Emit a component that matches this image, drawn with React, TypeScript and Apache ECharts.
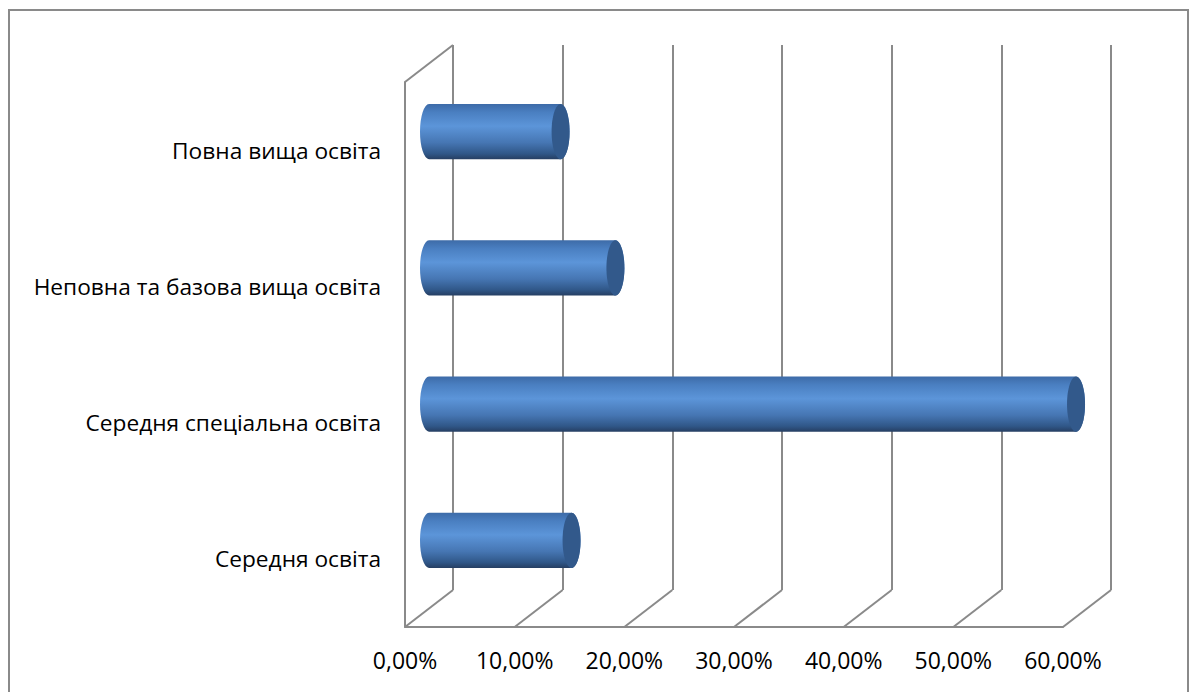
import React, { useEffect, useRef } from "react";
import * as echarts from "echarts";

// ---- data ----
const categories = [
  "Середня освіта",
  "Середня спеціальна освіта",
  "Неповна та базова вища освіта",
  "Повна вища освіта",
];
const values = [13, 59, 17, 12];
const tickValues = [0, 10, 20, 30, 40, 50, 60];
const axisMin = 0;
const axisMax = 60;
const axisInterval = 10;

// ---- layout ----
const FRONT = { left: 405, top: 82, width: 658, height: 545 };
const DX = 48;
const DY = -37;
const GRAY = "#8a8a8a";
const FONT = "Open Sans";

const fmt = (v: number) => v.toFixed(2).replace(".", ",") + "%";

export default function App() {
  const ref = useRef<HTMLDivElement>(null);
  useEffect(() => {
    if (!ref.current) return;
    const chart = echarts.init(ref.current, null, { renderer: "svg" });
    const hiddenAxis = {
      axisLine: { show: false },
      axisTick: { show: false },
      axisLabel: { show: false },
      splitLine: { show: false },
    };
    const option: any = {
      animation: false,
      backgroundColor: "#ffffff",
      graphic: [
        {
          type: "rect",
          shape: { x: 9, y: 10, width: 1179, height: 700 },
          style: { fill: "none", stroke: GRAY, lineWidth: 2 },
          silent: true,
        },
      ],
      grid: [
        { left: FRONT.left + DX, top: FRONT.top + DY, width: FRONT.width, height: FRONT.height },
        { left: FRONT.left, top: FRONT.top, width: FRONT.width, height: FRONT.height },
        { left: FRONT.left + DX / 2, top: FRONT.top + DY / 2, width: FRONT.width, height: FRONT.height },
      ],
      xAxis: [
        {
          gridIndex: 0,
          type: "value",
          min: axisMin,
          max: axisMax,
          interval: axisInterval,
          axisLine: { show: false },
          axisTick: { show: false },
          axisLabel: { show: false },
          splitLine: { show: true, lineStyle: { color: GRAY, width: 2 } },
        },
        {
          gridIndex: 1,
          type: "value",
          min: axisMin,
          max: axisMax,
          interval: axisInterval,
          axisLine: { show: true, onZero: false, lineStyle: { color: GRAY, width: 2 } },
          axisTick: { show: false },
          splitLine: { show: false },
          axisLabel: {
            show: true,
            formatter: (v: number) => fmt(v),
            fontFamily: FONT,
            fontSize: 23,
            color: "#000",
            margin: 21,
          },
        },
        { gridIndex: 2, type: "value", min: axisMin, max: axisMax, ...hiddenAxis },
      ],
      yAxis: [
        { gridIndex: 0, type: "category", data: categories, show: false },
        {
          gridIndex: 1,
          type: "category",
          data: categories,
          axisLine: { show: true, lineStyle: { color: GRAY, width: 2 } },
          axisTick: { show: false },
          splitLine: { show: false },
          axisLabel: {
            fontFamily: FONT,
            fontSize: 22.7,
            color: "#000",
            margin: 24,
          },
        },
        { gridIndex: 2, type: "category", data: categories, show: false },
        { gridIndex: 1, type: "value", min: 0, max: 1, show: false },
      ],
      series: [
        {
          type: "custom",
          name: "walls",
          xAxisIndex: 1,
          yAxisIndex: 3,
          silent: true,
          z: 1,
          encode: { x: 0, y: 1 },
          data: tickValues.map((v) => [v, 0]),
          renderItem: (params: any, api: any) => {
            const v = api.value(0);
            const b = api.coord([v, 0]);
            const t = api.coord([v, 1]);
            const children: any[] = [
              {
                type: "line",
                shape: { x1: b[0], y1: b[1], x2: b[0] + DX, y2: b[1] + DY },
                style: { stroke: GRAY, lineWidth: 2 },
              },
            ];
            if (v === axisMin) {
              children.push({
                type: "line",
                shape: { x1: t[0], y1: t[1], x2: t[0] + DX, y2: t[1] + DY },
                style: { stroke: GRAY, lineWidth: 2 },
              });
            }
            return { type: "group", children };
          },
        },
        {
          type: "custom",
          name: "bars",
          xAxisIndex: 2,
          yAxisIndex: 2,
          z: 5,
          encode: { x: 0, y: 1 },
          data: values.map((v, i) => [v, i]),
          renderItem: (params: any, api: any) => {
            const v = api.value(0);
            const i = api.value(1);
            const s = api.coord([axisMin, i]);
            const e = api.coord([v, i]);
            const band = api.size([0, 1])[1];
            const h = band * 0.404;
            const ry = h / 2;
            const rx = 9;
            const x0 = s[0];
            const x1 = e[0];
            const top = s[1] - ry;
            const bottom = s[1] + ry;
            const d = `M${x0},${top} L${x1},${top} A${rx},${ry} 0 0 1 ${x1},${bottom} L${x0},${bottom} A${rx},${ry} 0 0 1 ${x0},${top} Z`;
            return {
              type: "group",
              children: [
                {
                  type: "path",
                  shape: { pathData: d },
                  style: {
                    fill: new echarts.graphic.LinearGradient(0, 0, 0, 1, [
                      { offset: 0, color: "#3d6ba8" },
                      { offset: 0.15, color: "#4a7fc1" },
                      { offset: 0.4, color: "#5c95d9" },
                      { offset: 0.7, color: "#4676b3" },
                      { offset: 0.9, color: "#305788" },
                      { offset: 1, color: "#263f63" },
                    ]),
                    stroke: "none",
                  },
                },
                {
                  type: "ellipse",
                  shape: { cx: x1, cy: s[1], rx, ry },
                  style: { fill: "#32598b", stroke: "none" },
                },
              ],
            };
          },
        },
      ],
    };
    chart.setOption(option);
    return () => chart.dispose();
  }, []);
  return (
    <div
      ref={ref}
      style={{ position: "fixed", left: 0, top: 0, width: 1193, height: 692, background: "#fff" }}
    />
  );
}
